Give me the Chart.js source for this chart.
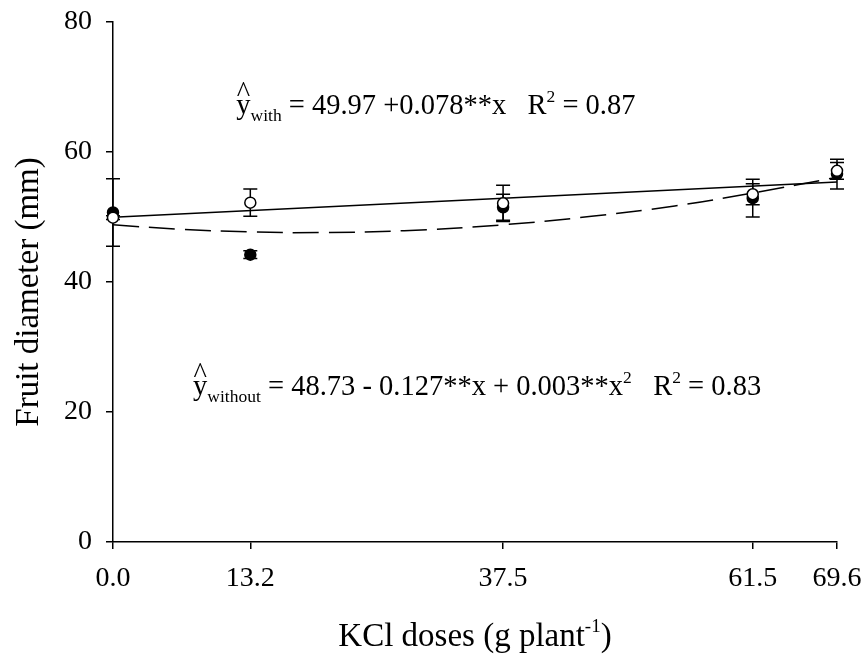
<!DOCTYPE html>
<html>
<head>
<meta charset="utf-8">
<script src="https://cdn.jsdelivr.net/npm/chart.js@4.4.0/dist/chart.umd.min.js"></script>
<style>
  html, body { margin: 0; padding: 0; background: #fff; }
</style>
</head>
<body>
<canvas id="chart" width="867" height="654"></canvas>
<script>
// ---- data ----
const doses = [0, 13.2, 37.5, 61.5, 69.6];
const withK = [49.9, 52.2, 52.1, 53.5, 57.1];
const withErr = [0.3, 2.1, 2.8, 1.6, 1.3];
const withoutK = [50.7, 44.2, 51.5, 52.9, 56.6];
const withoutErr = [5.2, 0.6, 2.0, 2.9, 2.3];
// fitted curves as drawn
const fitWithX = [0, 69.6];
const fitWithY = [49.97, 55.4];
const fitWithoutX = [0, 6.6, 13.2, 20, 28, 37.5, 46, 54, 61.5, 69.6];
const fitWithoutY = [48.8, 48.1, 47.7, 47.6, 47.9, 48.8, 50.1, 51.7, 53.7, 56.1];
const xTicks = [0, 13.2, 37.5, 61.5, 69.6];
const yTicks = [0, 20, 40, 60, 80];

const SERIF = '"Liberation Serif", "Times New Roman", serif';
const toXY = (xs, ys) => xs.map((x, i) => ({ x: x, y: ys[i] }));

// error bars under the markers
const errorBars = {
  id: 'errorBars',
  beforeDatasetsDraw(chart) {
    const { ctx, scales: { x, y } } = chart;
    ctx.save();
    ctx.strokeStyle = '#000';
    ctx.lineWidth = 1.5;
    chart.data.datasets.forEach(ds => {
      if (!ds.errors) return;
      ds.data.forEach((p, i) => {
        const px = x.getPixelForValue(p.x);
        const top = y.getPixelForValue(p.y + ds.errors[i]);
        const bot = y.getPixelForValue(p.y - ds.errors[i]);
        ctx.beginPath();
        ctx.moveTo(px, top); ctx.lineTo(px, bot);
        ctx.moveTo(px - 7, top); ctx.lineTo(px + 7, top);
        ctx.moveTo(px - 7, bot); ctx.lineTo(px + 7, bot);
        ctx.stroke();
      });
    });
    ctx.restore();
  }
};

// rich text pieces: main size, sub/superscripts
function drawRich(ctx, x, y, parts) {
  let cx = x;
  parts.forEach(p => {
    ctx.font = `${p.size}px ${SERIF}`;
    const w = ctx.measureText(p.t).width;
    ctx.fillText(p.t, cx, y + (p.dy || 0));
    if (p.hat) {
      const hw = ctx.measureText('^').width;
      ctx.fillText('^', cx + (w - hw) / 2, y - p.size * 0.42);
    }
    cx += w;
  });
  return cx - x;
}
function richWidth(ctx, parts) {
  let w = 0;
  parts.forEach(p => { ctx.font = `${p.size}px ${SERIF}`; w += ctx.measureText(p.t).width; });
  return w;
}

const annotations = {
  id: 'annotations',
  afterDraw(chart) {
    const { ctx, scales: { x, y }, chartArea } = chart;
    ctx.save();
    ctx.fillStyle = '#000';
    ctx.textBaseline = 'alphabetic';
    ctx.textAlign = 'left';
    const big = 28.5, small = 17.5;
    drawRich(ctx, x.getPixelForValue(11.85), y.getPixelForValue(65.8), [
      { t: 'y', size: big, hat: true },
      { t: 'with', size: small, dy: 7 },
      { t: ' = 49.97 +0.078**x   R', size: big },
      { t: '2', size: small, dy: -12 },
      { t: ' = 0.87', size: big }
    ]);
    drawRich(ctx, x.getPixelForValue(7.7), y.getPixelForValue(22.6), [
      { t: 'y', size: big, hat: true },
      { t: 'without', size: small, dy: 7 },
      { t: ' = 48.73 - 0.127**x + 0.003**x', size: big },
      { t: '2', size: small, dy: -12 },
      { t: '   R', size: big },
      { t: '2', size: small, dy: -12 },
      { t: ' = 0.83', size: big }
    ]);
    // x axis title with superscript
    const xt = [
      { t: 'KCl doses (g plant', size: 33 },
      { t: '-1', size: 19, dy: -14 },
      { t: ')', size: 33 }
    ];
    const cx = (chartArea.left + chartArea.right) / 2;
    drawRich(ctx, cx - richWidth(ctx, xt) / 2, 646, xt);
    // y axis title
    ctx.translate(29, 292);
    ctx.rotate(-Math.PI / 2);
    ctx.font = `33px ${SERIF}`;
    ctx.textAlign = 'center';
    ctx.textBaseline = 'middle';
    ctx.fillText('Fruit diameter (mm)', 0, 0);
    ctx.restore();
  }
};

const ctx = document.getElementById('chart').getContext('2d');
new Chart(ctx, {
  type: 'scatter',
  data: {
    datasets: [
      {
        label: 'with',
        data: toXY(doses, withK),
        errors: withErr,
        pointRadius: 5.5,
        pointBackgroundColor: '#fff',
        pointBorderColor: '#000',
        pointBorderWidth: 1.5,
        showLine: false,
        clip: false
      },
      {
        label: 'without',
        data: toXY(doses, withoutK),
        errors: withoutErr,
        pointRadius: 5.5,
        pointBackgroundColor: '#000',
        pointBorderColor: '#000',
        pointBorderWidth: 1.5,
        showLine: false,
        clip: false
      },
      {
        label: 'fit with',
        data: toXY(fitWithX, fitWithY),
        showLine: true,
        pointRadius: 0,
        borderColor: '#000',
        borderWidth: 1.5,
        clip: false
      },
      {
        label: 'fit without',
        data: toXY(fitWithoutX, fitWithoutY),
        showLine: true,
        pointRadius: 0,
        borderColor: '#000',
        borderWidth: 1.5,
        borderDash: [26, 10],
        tension: 0.4,
        clip: false
      }
    ]
  },
  options: {
    responsive: false,
    animation: false,
    devicePixelRatio: 1,
    layout: { padding: { top: 22, right: 30, left: 0, bottom: 0 } },
    plugins: { legend: { display: false }, tooltip: { enabled: false } },
    scales: {
      x: {
        type: 'linear',
        min: 0,
        max: 69.6,
        afterBuildTicks: s => { s.ticks = xTicks.map(v => ({ value: v })); },
        afterFit: s => { s.height = 112; s.paddingLeft = 0; s.paddingRight = 0; },
        grid: { display: true, drawOnChartArea: false, drawTicks: true, tickLength: 7, color: '#000', lineWidth: 1.5 },
        border: { display: true, color: '#000', width: 1.5 },
        ticks: {
          color: '#000',
          padding: 13,
          maxRotation: 0,
          font: { family: SERIF, size: 28 },
          callback: v => Number(v).toFixed(1)
        }
      },
      y: {
        min: 0,
        max: 80,
        afterBuildTicks: s => { s.ticks = yTicks.map(v => ({ value: v })); },
        afterFit: s => { s.width = 113; s.paddingTop = 0; s.paddingBottom = 0; },
        grid: { display: true, drawOnChartArea: false, drawTicks: true, tickLength: 7, color: '#000', lineWidth: 1.5 },
        border: { display: true, color: '#000', width: 1.5 },
        ticks: { color: '#000', padding: 14, font: { family: SERIF, size: 28 } }
      }
    }
  },
  plugins: [errorBars, annotations]
});
</script>
</body>
</html>
